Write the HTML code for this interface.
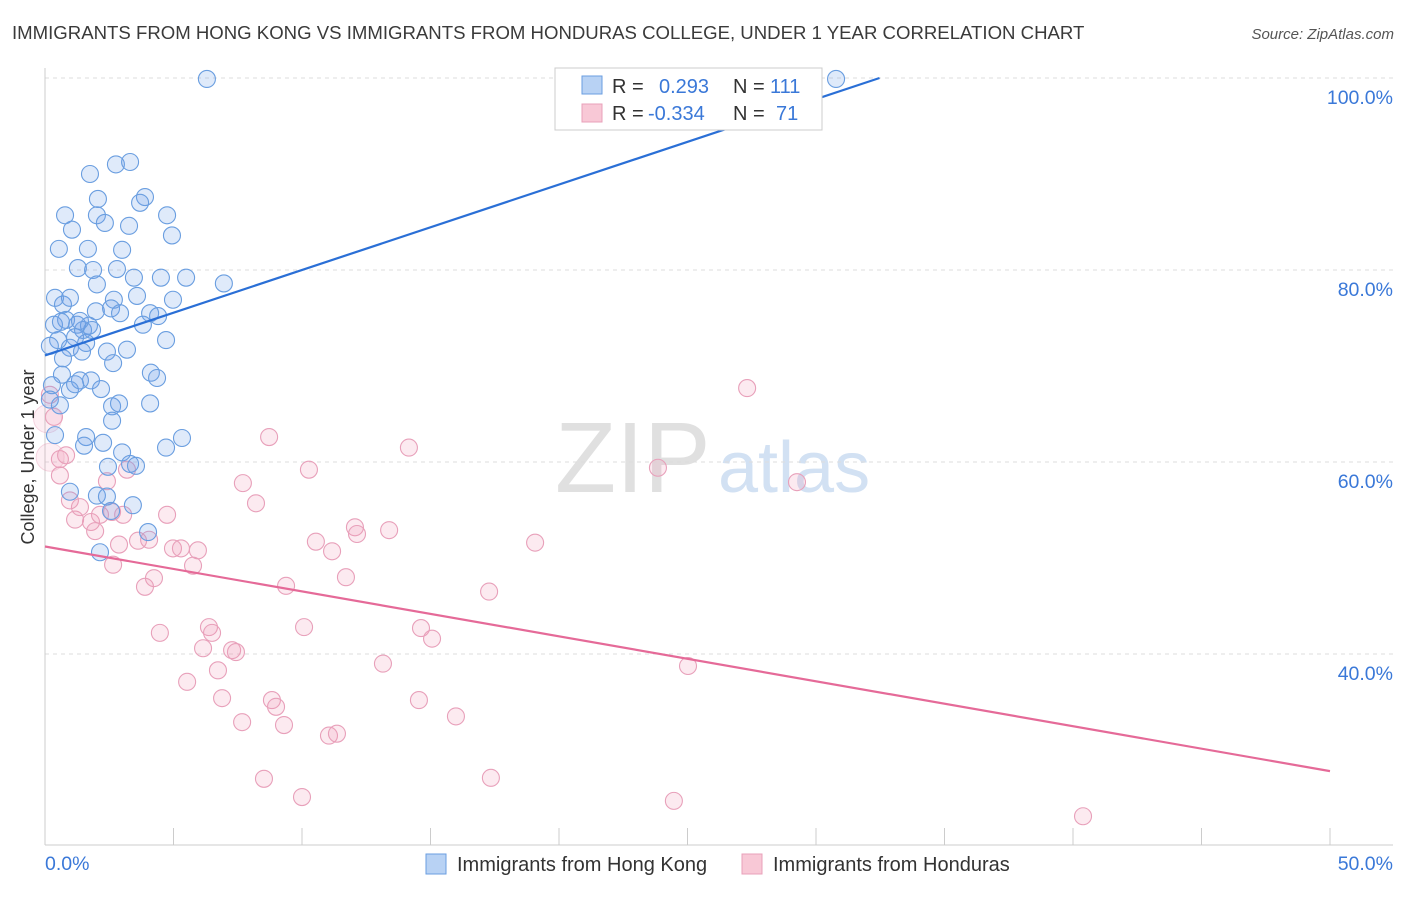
<!DOCTYPE html>
<html><head><meta charset="utf-8"><style>
body{margin:0;background:#fff;font-family:"Liberation Sans",sans-serif;}
svg text{font-family:"Liberation Sans",sans-serif;}
</style></head><body>
<svg id="chart" width="1406" height="892" xmlns="http://www.w3.org/2000/svg">
<text x="12" y="39" font-size="18.6" fill="#3a3a3a">IMMIGRANTS FROM HONG KONG VS IMMIGRANTS FROM HONDURAS COLLEGE, UNDER 1 YEAR CORRELATION CHART</text>
<text x="1394" y="39" font-size="15" fill="#555" font-style="italic" text-anchor="end">Source: ZipAtlas.com</text>
<g>
<text x="555" y="492" font-size="100" fill="#e0e0e0" font-family="Liberation Serif,serif">ZIP</text>
<text x="718" y="492" font-size="72" fill="#d2e1f3">atlas</text>
</g>
<g id="grid"></g>
<g id="axes"></g>
<g id="pts"></g>
<g id="trends"></g>
<text transform="translate(34,457) rotate(-90)" font-size="18" fill="#333" text-anchor="middle">College, Under 1 year</text>
<g>
<rect x="555" y="68" width="267" height="62" fill="#fff" stroke="#ccc"/>
<rect x="582" y="76" width="20" height="18" fill="#b8d2f4" stroke="#6a9ee0"/>
<rect x="582" y="104" width="20" height="18" fill="#f8c8d6" stroke="#e8a0ba"/>
<text x="612" y="93" font-size="20" fill="#333">R =</text>
<text x="659" y="93" font-size="20" fill="#3a78d8">0.293</text>
<text x="733" y="93" font-size="20" fill="#333">N =</text>
<text x="770" y="93" font-size="20" fill="#3a78d8">111</text>
<text x="612" y="120" font-size="20" fill="#333">R =</text>
<text x="648" y="120" font-size="20" fill="#3a78d8">-0.334</text>
<text x="733" y="120" font-size="20" fill="#333">N =</text>
<text x="776" y="120" font-size="20" fill="#3a78d8">71</text>
</g>
<g>
<rect x="426" y="854" width="20" height="20" fill="#b8d2f4" stroke="#6a9ee0"/>
<text x="457" y="871" font-size="20" fill="#333">Immigrants from Hong Kong</text>
<rect x="742" y="854" width="20" height="20" fill="#f8c8d6" stroke="#e8a0ba"/>
<text x="773" y="871" font-size="20" fill="#333">Immigrants from Honduras</text>
</g>
</svg>
<script>
const blueX=[6.30,30.78,1.75,2.76,3.31,2.06,3.89,0.78,2.02,4.75,3.70,1.05,2.33,3.27,4.94,0.54,1.67,3.00,1.28,1.87,2.80,3.46,4.51,5.49,6.96,2.02,0.39,0.70,0.97,2.68,3.58,4.98,1.98,2.57,4.09,2.92,4.40,0.35,0.82,1.25,1.71,0.51,1.17,1.60,3.81,4.71,0.19,0.97,1.44,2.41,3.19,2.65,0.66,1.36,1.79,4.12,4.36,0.27,0.97,2.18,0.19,0.58,2.61,2.88,4.09,2.61,0.39,1.60,2.26,1.52,5.33,3.00,4.71,2.45,3.31,3.54,0.97,2.02,2.41,3.42,2.57,4.01,2.14,1.48,1.83,0.70,1.17,0.62,1.36];
const blueY=[99.9,99.9,90.0,91.0,91.25,87.4,87.6,85.7,85.7,85.7,87.0,84.2,84.9,84.6,83.6,82.2,82.2,82.1,80.2,80.0,80.1,79.2,79.2,79.2,78.6,78.5,77.1,76.4,77.1,76.9,77.3,76.9,75.7,76.0,75.5,75.5,75.2,74.3,74.8,74.3,74.2,72.7,73.0,72.4,74.3,72.7,72.1,71.9,71.5,71.5,71.7,70.3,69.1,68.5,68.5,69.3,68.75,68.0,67.5,67.6,66.5,65.9,65.8,66.1,66.1,64.3,62.8,62.6,62.0,61.7,62.5,61.0,61.5,59.5,59.8,59.6,56.9,56.5,56.4,55.5,54.9,52.7,50.6,73.75,73.75,70.8,68.1,74.6,74.7];
const pinkX=[27.32,14.16,8.72,23.85,10.27,29.26,7.70,8.21,0.58,0.82,0.35,0.19,0.58,0.97,2.41,3.19,1.17,1.36,1.79,1.95,2.14,2.61,3.04,4.75,3.62,2.88,4.05,4.98,5.29,5.95,5.76,4.24,3.89,2.65,9.38,10.54,11.17,12.06,12.14,13.39,19.07,11.71,17.28,4.47,6.38,6.50,10.08,14.63,15.06,6.15,7.28,7.43,6.73,5.53,6.89,8.83,8.99,7.67,9.30,13.15,25.02,14.55,15.99,11.05,11.36,8.52,10.00,17.35,24.47,40.39];
const pinkY=[67.7,61.5,62.6,59.4,59.2,57.9,57.8,55.7,60.3,60.7,64.7,67.0,58.6,56.0,58.0,59.2,54.0,55.3,53.75,52.8,54.5,54.8,54.5,54.5,51.8,51.4,51.9,51.0,51.0,50.8,49.2,47.9,47.0,49.3,47.1,51.7,50.7,53.2,52.5,52.9,51.6,48.0,46.5,42.2,42.8,42.2,42.8,42.7,41.6,40.6,40.4,40.2,38.3,37.1,35.4,35.2,34.5,32.9,32.6,39.0,38.75,35.2,33.5,31.5,31.7,27.0,25.1,27.1,24.7,23.1];
const blueTrend=[71.1,0.89];
const pinkTrend=[51.2,-0.468];
const yTicks=[40,60,80,100];
const yTickLabels=["40.0%","60.0%","80.0%","100.0%"];
const xTicks=[0,5,10,15,20,25,30,35,40,45,50];

const NS="http://www.w3.org/2000/svg";
const sx=v=>45+v*25.7, sy=v=>78+(100-v)*9.6;
function mk(tag,attrs,parent){const e=document.createElementNS(NS,tag);for(const k in attrs)e.setAttribute(k,attrs[k]);document.getElementById(parent).appendChild(e);return e;}
yTicks.forEach((t,i)=>{
  const g=mk('line',{x1:45,x2:1393,y1:sy(t),y2:sy(t),stroke:'#ddd','stroke-dasharray':'4,4'},'grid');
  
  
  const l=mk('text',{x:1393,y:sy(t)+26,'font-size':19.5,fill:'#3a78d8','text-anchor':'end'},'axes');
  l.textContent=yTickLabels[i];
  
  
});
const ya=mk('line',{x1:45,x2:45,y1:68,y2:845,stroke:'#ccc'},'axes');


const xa=mk('line',{x1:45,x2:1393,y1:845,y2:845,stroke:'#ccc'},'axes');


xTicks.forEach(t=>{
  const k=mk('line',{x1:sx(t),x2:sx(t),y1:828,y2:845,stroke:'#ccc'},'axes');
  
  
});
const xl0=mk('text',{x:45,y:870,'font-size':19.5,fill:'#3a78d8'},'axes');xl0.textContent='0.0%';


const xl1=mk('text',{x:1393,y:870,'font-size':19.5,fill:'#3a78d8','text-anchor':'end'},'axes');xl1.textContent='50.0%';


[[0.1,64.5],[0.2,60.5]].forEach(p=>{
  const c=mk('circle',{cx:sx(p[0]),cy:sy(p[1]),r:14,fill:'rgba(240,150,180,0.15)',stroke:'rgba(232,160,186,0.4)'},'pts');
  
  
});
pinkX.forEach((x,i)=>{
  const c=mk('circle',{cx:sx(x),cy:sy(pinkY[i]),r:8.5,fill:'rgba(240,150,180,0.2)',stroke:'#e8a0ba','stroke-width':1.1},'pts');
  
  
});
blueX.forEach((x,i)=>{
  const c=mk('circle',{cx:sx(x),cy:sy(blueY[i]),r:8.5,fill:'rgba(110,160,230,0.22)',stroke:'#6a9ee0','stroke-width':1.1},'pts');
  
  
});
const bx1=(100-blueTrend[0])/blueTrend[1];
const bl=mk('line',{x1:sx(0),y1:sy(blueTrend[0]),x2:sx(bx1),y2:sy(100),stroke:'#2a6fd6','stroke-width':2.2},'trends');


const pl=mk('line',{x1:sx(0),y1:sy(pinkTrend[0]),x2:sx(50),y2:sy(pinkTrend[0]+pinkTrend[1]*50),stroke:'#e56a98','stroke-width':2.2},'trends');


</script>
</body></html>
